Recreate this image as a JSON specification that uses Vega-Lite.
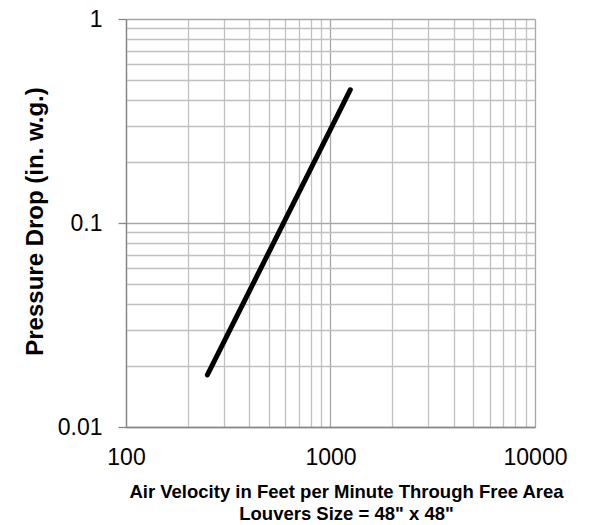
{
  "$schema": "https://vega.github.io/schema/vega-lite/v6.json",
  "width": 409,
  "height": 408,
  "autosize": "none",
  "padding": {"left": 126, "top": 19, "right": 54, "bottom": 98},
  "background": "white",
  "config": {"view": {"stroke": null}, "font": "Liberation Sans"},
  "data": {
    "values": [
      {"velocity": 250, "pressure": 0.018},
      {"velocity": 500, "pressure": 0.072},
      {"velocity": 750, "pressure": 0.162},
      {"velocity": 1000, "pressure": 0.288},
      {"velocity": 1250, "pressure": 0.45}
    ]
  },
  "mark": {"type": "line", "color": "black", "strokeWidth": 5, "strokeCap": "round"},
  "encoding": {
    "x": {
      "field": "velocity",
      "type": "quantitative",
      "scale": {"type": "log", "domain": [100, 10000], "nice": false},
      "axis": {
        "values": [100, 200, 300, 400, 500, 600, 700, 800, 900, 1000, 2000, 3000, 4000, 5000, 6000, 7000, 8000, 9000, 10000],
        "labelExpr": "abs(log(datum.value)/LN10 - round(log(datum.value)/LN10)) < 0.001 ? '' + datum.value : ''",
        "labelOverlap": false,
        "labelFlush": false,
        "labelFontSize": 23,
        "labelColor": "#000000",
        "labelPadding": 19,
        "ticks": false,
        "tickSize": 0,
        "grid": true,
        "gridColor": {"condition": {"test": "abs(log(datum.value)/LN10 - round(log(datum.value)/LN10)) < 0.001", "value": "#a6a6a6"}, "value": "#c0c0c0"},
        "gridWidth": 1.3,
        "domainColor": "#868686",
        "domainWidth": 1.3,
        "title": ["Air Velocity in Feet per Minute Through Free Area", "Louvers Size = 48\" x 48\""],
        "titleFontSize": 18.5,
        "titleFontWeight": "bold",
        "titleColor": "#000000",
        "titleLineHeight": 22,
        "titleBaseline": "alphabetic",
        "titleAlign": "center",
        "titleX": 220,
        "titleY": 70
      }
    },
    "y": {
      "field": "pressure",
      "type": "quantitative",
      "scale": {"type": "log", "domain": [0.01, 1], "nice": false},
      "axis": {
        "values": [0.01, 0.02, 0.03, 0.04, 0.05, 0.06, 0.07, 0.08, 0.09, 0.1, 0.2, 0.3, 0.4, 0.5, 0.6, 0.7, 0.8, 0.9, 1],
        "labelExpr": "abs(log(datum.value)/LN10 - round(log(datum.value)/LN10)) < 0.001 ? '' + datum.value : ''",
        "labelOverlap": false,
        "labelFlush": false,
        "labelFontSize": 23,
        "labelColor": "#000000",
        "labelPadding": 16,
        "ticks": true,
        "tickSize": 8,
        "tickColor": "#868686",
        "tickWidth": 1.3,
        "tickOpacity": {"condition": {"test": "abs(log(datum.value)/LN10 - round(log(datum.value)/LN10)) < 0.001", "value": 1}, "value": 0},
        "grid": true,
        "gridColor": {"condition": {"test": "abs(log(datum.value)/LN10 - round(log(datum.value)/LN10)) < 0.001", "value": "#a6a6a6"}, "value": "#c0c0c0"},
        "gridWidth": 1.3,
        "domainColor": "#868686",
        "domainWidth": 1.3,
        "title": "Pressure Drop (in. w.g.)",
        "titleFontSize": 24,
        "titleFontWeight": "bold",
        "titleColor": "#000000",
        "titleAngle": -90,
        "titleBaseline": "alphabetic",
        "titleAlign": "center",
        "titleX": -84,
        "titleY": 202
      }
    }
  }
}
